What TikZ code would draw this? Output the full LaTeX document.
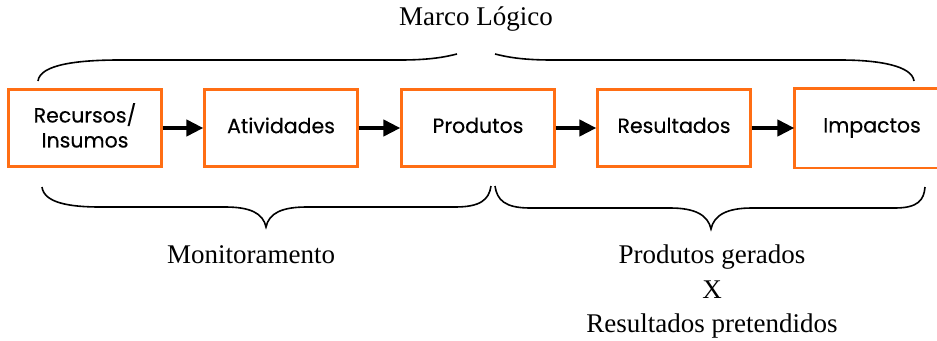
\documentclass[tikz,border=0pt]{standalone}
\usepackage{fontspec}
\setmainfont{Liberation Serif}
\newfontfamily\boxfont[FakeBold=0.3]{Poppins}
\usetikzlibrary{arrows.meta}
\definecolor{boxorange}{RGB}{255,110,20}
\begin{document}
\begin{tikzpicture}[x=1pt,y=-1pt,
  stepbox/.style={draw=boxorange,line width=2.2pt,fill=white,minimum width=153pt,minimum height=77pt,
    inner sep=0pt,align=center,font=\boxfont\fontsize{20.5}{25}\selectfont,
    execute at begin node=\vphantom{Ip}, execute at end node=\vphantom{Ip}},
  flowarrow/.style={line width=4pt,-{Triangle[length=17pt,width=16pt]}},
  bracepath/.style={line width=1.6pt},
  serif/.style={font=\fontsize{27}{34.5}\selectfont,align=center,inner sep=0pt}]
\useasboundingbox (0,0) rectangle (937,340);
\clip (0,0) rectangle (937,340);
\node[stepbox] (b1) at (85,128) {Recursos/\\Insumos};
\node[stepbox] (b2) at (281,128) {Atividades};
\node[stepbox] (b3) at (478,128) {Produtos};
\node[stepbox] (b4) at (674,128) {Resultados};
\node[stepbox,draw=none] (b5) at (872,128) {Impactos};
\draw[boxorange,line width=2.2pt] (b5.north east) -- (b5.north west) -- (b5.south west) -- (b5.south east);
\draw[flowarrow] (b1.east) -- (b2.west);
\draw[flowarrow] (b2.east) -- (b3.west);
\draw[flowarrow] (b3.east) -- (b4.west);
\draw[flowarrow] (b4.east) -- (b5.west);
% top brace
\draw[bracepath] (38,81) .. controls (40,64) and (80,60) .. (120,60) -- (400,60) .. controls (430,60) and (445,57) .. (457,54);
\draw[bracepath] (495,54) .. controls (507,57) and (522,60) .. (552,60) -- (840,60) .. controls (880,60) and (912,66) .. (914,81);
% bottom left brace
\draw[bracepath] (42,187) .. controls (44,203) and (70,207) .. (100,207) -- (225,207) .. controls (250,207) and (263,213) .. (266,227)
  .. controls (269,213) and (282,207) .. (307,207) -- (455,207) .. controls (480,207) and (489,200) .. (491,186);
% bottom right brace
\draw[bracepath] (495,186) .. controls (497,200) and (505,208) .. (530,208) -- (670,208) .. controls (695,208) and (708,215) .. (711,229)
  .. controls (714,215) and (727,208) .. (752,208) -- (895,208) .. controls (918,208) and (924,200) .. (925,187);
\node[serif] (t1) at (476,19) {Marco Lógico};
\node[serif] (t2) at (251,255) {Monitoramento};
\node[serif] (t3) at (712,292) {Produtos gerados\\X\\Resultados pretendidos};
\end{tikzpicture}
\end{document}
